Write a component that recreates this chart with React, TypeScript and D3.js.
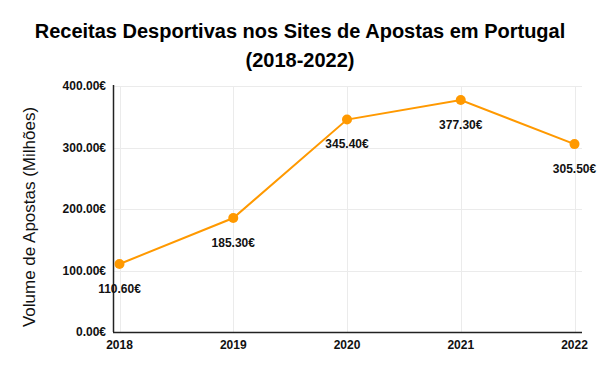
import React, { useEffect, useRef } from 'react';
import * as d3 from 'd3';

const years = ['2018', '2019', '2020', '2021', '2022'];
const receitas = [110.6, 185.3, 345.4, 377.3, 305.5];
const yTicks = [0, 100, 200, 300, 400];

const width = 600;
const height = 371;

const App: React.FC = () => {
  const ref = useRef<SVGSVGElement | null>(null);

  useEffect(() => {
    if (!ref.current) return;
    const svg = d3.select(ref.current);
    svg.selectAll('*').remove();

    const left = 113;
    const right = 582;
    const top = 86;
    const bottom = 332;
    const font = 'Arial, "Liberation Sans", sans-serif';
    const orange = '#ff9900';

    const x = d3.scalePoint<string>().domain(years).range([119.5, 574.5]);
    const y = d3.scaleLinear().domain([0, 400]).range([bottom, top]);

    svg.append('rect').attr('width', width).attr('height', height).attr('fill', '#fff');

    // Title
    const title = svg.append('text')
      .attr('text-anchor', 'middle')
      .attr('font-family', font)
      .attr('font-weight', 'bold')
      .attr('font-size', 20)
      .attr('fill', '#000');
    title.append('tspan').attr('x', 300).attr('y', 38).text('Receitas Desportivas nos Sites de Apostas em Portugal');
    title.append('tspan').attr('x', 300).attr('y', 67).text('(2018-2022)');

    // Grid
    const grid = svg.append('g').attr('stroke', '#ebebeb').attr('stroke-width', 1);
    grid.selectAll('line.h')
      .data(yTicks.filter(t => t > 0))
      .enter()
      .append('line')
      .attr('x1', left)
      .attr('x2', right)
      .attr('y1', d => Math.round(y(d)) + 0.5)
      .attr('y2', d => Math.round(y(d)) + 0.5);
    grid.selectAll('line.v')
      .data(years)
      .enter()
      .append('line')
      .attr('x1', d => Math.round(x(d) || 0) + 0.5)
      .attr('x2', d => Math.round(x(d) || 0) + 0.5)
      .attr('y1', top)
      .attr('y2', bottom);

    // Axes lines
    svg.append('line')
      .attr('x1', left + 0.5).attr('x2', left + 0.5)
      .attr('y1', top - 1).attr('y2', bottom)
      .attr('stroke', '#222').attr('stroke-width', 1.5);
    svg.append('line')
      .attr('x1', left).attr('x2', right)
      .attr('y1', bottom + 0.5).attr('y2', bottom + 0.5)
      .attr('stroke', '#222').attr('stroke-width', 1.5);

    // Y tick labels
    svg.append('g')
      .selectAll('text')
      .data(yTicks)
      .enter()
      .append('text')
      .attr('x', 106)
      .attr('y', d => y(d))
      .attr('dy', '0.35em')
      .attr('text-anchor', 'end')
      .attr('font-family', font)
      .attr('font-weight', 'bold')
      .attr('font-size', 12)
      .attr('fill', '#111')
      .text(d => d3.format('.2f')(d) + '€');

    // X tick labels
    svg.append('g')
      .selectAll('text')
      .data(years)
      .enter()
      .append('text')
      .attr('x', d => x(d) || 0)
      .attr('y', 349)
      .attr('text-anchor', 'middle')
      .attr('font-family', font)
      .attr('font-weight', 'bold')
      .attr('font-size', 12)
      .attr('fill', '#111')
      .text(d => d);

    // Y axis title
    svg.append('text')
      .attr('transform', `translate(34.5,217) rotate(-90)`)
      .attr('text-anchor', 'middle')
      .attr('font-family', font)
      .attr('font-size', 17)
      .attr('fill', '#111')
      .text('Volume de Apostas (Milhões)');

    // Line
    const line = d3.line<number>()
      .x((_, i) => x(years[i]) || 0)
      .y(d => y(d));
    svg.append('path')
      .datum(receitas)
      .attr('d', line)
      .attr('fill', 'none')
      .attr('stroke', orange)
      .attr('stroke-width', 2);

    svg.append('g')
      .selectAll('circle')
      .data(receitas)
      .enter()
      .append('circle')
      .attr('cx', (_, i) => x(years[i]) || 0)
      .attr('cy', d => y(d))
      .attr('r', 5)
      .attr('fill', orange);

    // Data labels
    svg.append('g')
      .selectAll('text')
      .data(receitas)
      .enter()
      .append('text')
      .attr('x', (_, i) => x(years[i]) || 0)
      .attr('y', d => y(d) + 24.5)
      .attr('dy', '0.35em')
      .attr('text-anchor', 'middle')
      .attr('font-family', font)
      .attr('font-weight', 'bold')
      .attr('font-size', 12)
      .attr('fill', '#111')
      .text(d => d3.format('.2f')(d) + '€');
  }, []);

  return (
    <svg
      ref={ref}
      width={width}
      height={height}
      style={{ position: 'absolute', left: 0, top: 0 }}
    />
  );
};

export default App;
